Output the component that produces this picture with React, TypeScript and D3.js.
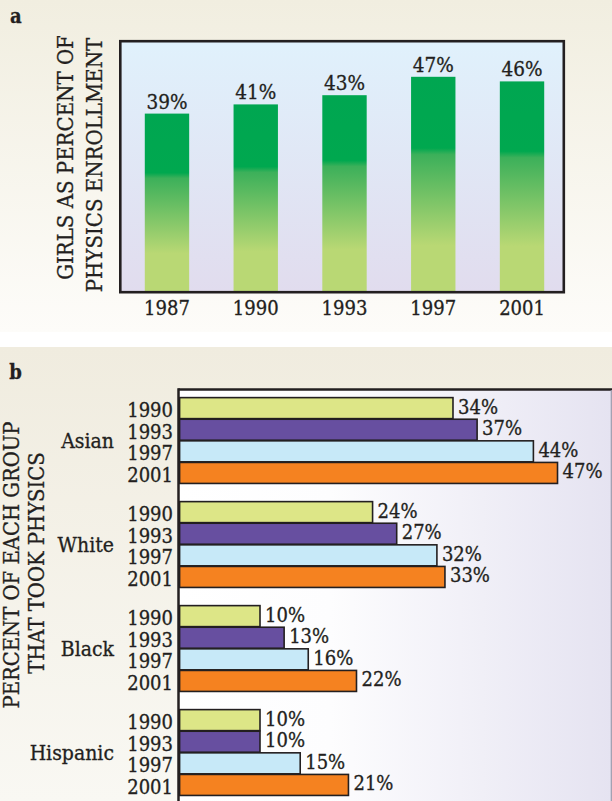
import React from 'react';
import * as d3 from 'd3';

// ---- Data ----
const yearsA = ['1987', '1990', '1993', '1997', '2001'];
const girlsPct = [39, 41, 43, 47, 46];

const groups = ['Asian', 'White', 'Black', 'Hispanic'];
const yearsB = ['1990', '1993', '1997', '2001'];
const asian = [34, 37, 44, 47];
const white = [24, 27, 32, 33];
const black = [10, 13, 16, 22];
const hispanic = [10, 10, 15, 21];
const seriesB = [asian, white, black, hispanic];
const yearColors = ['#dde687', '#674fa0', '#c7e9f8', '#f58220'];

const FONT = "'DejaVu Serif Condensed', 'DejaVu Serif', serif";
const INK = '#231f20';

export default function App() {
  // Panel a scales
  const xA = d3.scaleBand<string>().domain(yearsA).range([122.6, 566.4]).paddingInner(0.5).paddingOuter(0.25);
  const yA = d3.scaleLinear().domain([0, 55]).range([293, 40]);

  // Panel b scales
  const xB = d3.scaleLinear().domain([0, 54]).range([179.6, 613.8]);
  const pi = 0.169, po = 0.08, stepG = 104;
  const yG = d3.scaleBand<string>().domain(groups)
    .range([389, 389 + stepG * (groups.length - pi + 2 * po)])
    .paddingInner(pi).paddingOuter(po);
  const yY = d3.scaleBand<string>().domain(yearsB).range([0, yG.bandwidth()]);

  const txt = {
    fontFamily: FONT, fontStretch: 'condensed' as const, fill: INK,
    stroke: INK, strokeWidth: 0.3,
  };

  return (
    <svg width={612} height={801} style={{ position: 'absolute', left: 0, top: 0, display: 'block' }}>
      <defs>
        <linearGradient id="panelA" x1="0" y1="0" x2="0" y2="1">
          <stop offset="0" stopColor="#f1eee0" />
          <stop offset="1" stopColor="#fdfcf9" />
        </linearGradient>
        <linearGradient id="panelB" x1="0" y1="0" x2="0" y2="1">
          <stop offset="0" stopColor="#f0ecdf" />
          <stop offset="1" stopColor="#f9f8f3" />
        </linearGradient>
        <linearGradient id="plotA" x1="0" y1="0" x2="0" y2="1">
          <stop offset="0" stopColor="#e0f1fc" />
          <stop offset="1" stopColor="#e1dcee" />
        </linearGradient>
        <linearGradient id="plotB" x1="0" y1="0" x2="1" y2="0">
          <stop offset="0" stopColor="#ffffff" />
          <stop offset="0.35" stopColor="#fdfdfe" />
          <stop offset="1" stopColor="#e5e3f1" />
        </linearGradient>
        <linearGradient id="barA" x1="0" y1="0" x2="0" y2="1">
          <stop offset="0" stopColor="#00a651" />
          <stop offset="0.33" stopColor="#00a84f" />
          <stop offset="0.36" stopColor="#3cb05a" />
          <stop offset="0.78" stopColor="#b9d874" />
          <stop offset="1" stopColor="#b9d874" />
        </linearGradient>
      </defs>

      {/* backgrounds */}
      <rect x={0} y={0} width={612} height={801} fill="#ffffff" />
      <rect x={0} y={0} width={612} height={332} fill="url(#panelA)" />
      <rect x={0} y={347} width={612} height={454} fill="url(#panelB)" />

      {/* ---------- Panel a ---------- */}
      <text x={10} y={23.3} fontSize={20} fontWeight="bold" {...txt}>a</text>
      <rect x={120.3} y={41.2} width={443.5} height={251} fill="url(#plotA)" />
      {girlsPct.map((v, i) => (
        <rect key={yearsA[i]} x={xA(yearsA[i])} y={yA(v)} width={xA.bandwidth()}
          height={yA(0) - yA(v)} fill="url(#barA)" />
      ))}
      <rect x={120.3} y={41.2} width={443.5} height={251} fill="none" stroke={INK} strokeWidth={2.6} />
      {girlsPct.map((v, i) => (
        <text key={'v' + i} x={(xA(yearsA[i]) as number) + xA.bandwidth() / 2} y={yA(v) - 5}
          fontSize={20.5} textAnchor="middle" {...txt}>{v}%</text>
      ))}
      {yearsA.map((y) => (
        <text key={'t' + y} x={(xA(y) as number) + xA.bandwidth() / 2} y={315}
          fontSize={20} textAnchor="middle" {...txt}>{y}</text>
      ))}
      <text transform="translate(73.3,157.5) rotate(-90)" fontSize={22} textAnchor="middle" {...txt}>GIRLS AS PERCENT OF</text>
      <text transform="translate(101.7,165) rotate(-90)" fontSize={22} textAnchor="middle" {...txt}>PHYSICS ENROLLMENT</text>

      {/* ---------- Panel b ---------- */}
      <text x={9.3} y={379.3} fontSize={20} fontWeight="bold" {...txt}>b</text>
      <rect x={178.4} y={389.5} width={433.6} height={412} fill="url(#plotB)" />
      {groups.map((g, gi) => {
        const y0 = yG(g) as number;
        return (
          <g key={g}>
            {yearsB.map((yr, j) => {
              const v = seriesB[gi][j];
              const by = y0 + (yY(yr) as number);
              const bh = yY.bandwidth();
              const cy = by + bh / 2;
              return (
                <g key={yr}>
                  <rect x={xB(0)} y={by + 0.3} width={xB(v) - xB(0)} height={bh - 0.6}
                    fill={yearColors[j]} stroke={INK} strokeWidth={1.6} />
                  <text x={xB(v) + 5} y={cy + 5.5} fontSize={20} textAnchor="start" {...txt}>{v}%</text>
                  <text x={173} y={cy + 9} fontSize={20} textAnchor="end" {...txt}>{yr}</text>
                </g>
              );
            })}
            <text x={114} y={y0 + yG.bandwidth() / 2 + 7.5} fontSize={21} textAnchor="end" {...txt}>{g}</text>
          </g>
        );
      })}
      <line x1={178.4} y1={389.5} x2={612} y2={389.5} stroke={INK} strokeWidth={2.5} />
      <line x1={178.5} y1={388.3} x2={178.5} y2={801} stroke={INK} strokeWidth={2.5} />
      <line x1={611.3} y1={390} x2={611.3} y2={801} stroke="#9b9aab" strokeWidth={1.2} />
      <text transform="translate(19,565) rotate(-90)" fontSize={21.8} textAnchor="middle" {...txt}>PERCENT OF EACH GROUP</text>
      <text transform="translate(43.5,563) rotate(-90)" fontSize={21.8} textAnchor="middle" {...txt}>THAT TOOK PHYSICS</text>
    </svg>
  );
}
